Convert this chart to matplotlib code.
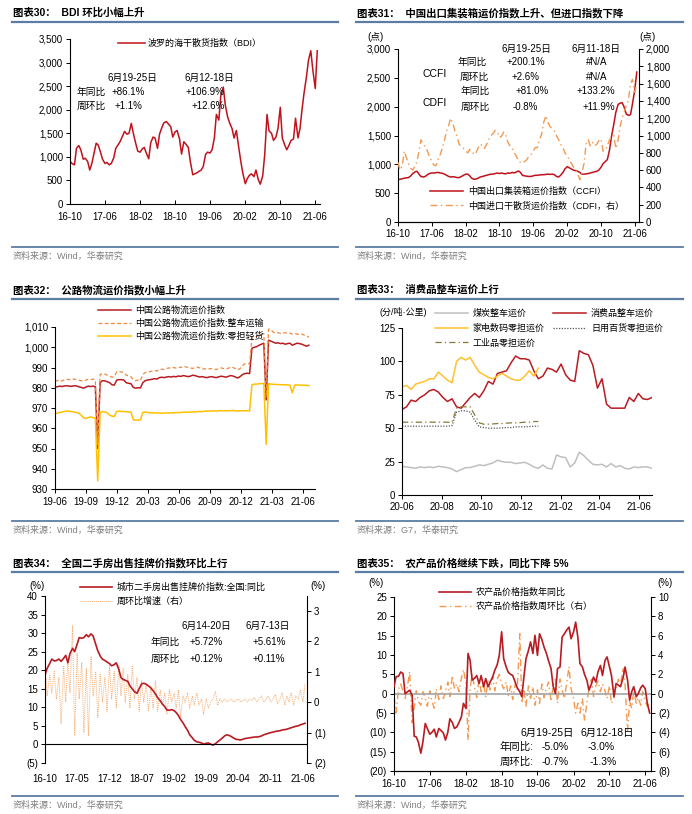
import matplotlib
matplotlib.use('Agg')
import matplotlib.pyplot as plt
from matplotlib.lines import Line2D
from matplotlib.ticker import FuncFormatter, MultipleLocator
import matplotlib.dates as mdates
import pandas as pd

plt.rcParams['font.family'] = ['Liberation Sans', 'Noto Sans CJK SC']
plt.rcParams['font.size'] = 7
plt.rcParams['axes.linewidth'] = 0.8

# ---------------- data ----------------
# 图表30 BDI, semi-monthly from 2016-10
bdi = [905, 860, 830, 1180, 1240, 1150, 950, 970, 900, 720,
       850, 1050, 1290, 1250, 1100, 950, 860, 880, 830, 860,
       980, 1180, 1260, 1330, 1440, 1540, 1480, 1500, 1710, 1500,
       1280, 1120, 1100, 1170, 1200, 1080, 960, 1300, 1420, 1400,
       1180, 1480, 1620, 1720, 1750, 1700, 1640, 1420, 1530, 1560,
       1380, 1060, 1320, 1270, 1200, 900, 620, 640, 660, 690,
       720, 800, 1050, 1100, 1080, 1150, 1400, 1900, 1780, 2300,
       2480, 2100, 1850, 1720, 1600, 1400, 1560, 1250, 900, 650,
       430, 540, 610, 640, 580, 720, 520, 420, 600, 1050,
       1900, 1550, 1500, 1350, 1420, 1600, 2050, 1400, 1250, 1150,
       1250, 1350, 1380, 1820, 1400, 1600, 2000, 2350, 2700, 3050,
       3250, 2850, 2450, 3250]

# 图表31 CCFI (left) / CDFI (right), semi-monthly from 2016-10
ccfi = [735, 740, 750, 760, 765, 770, 800, 840, 870, 880,
        830, 790, 780, 790, 820, 840, 850, 850, 855, 860,
        850, 845, 830, 810, 790, 780, 785, 780, 770, 770,
        790, 810, 830, 830, 800, 760, 740, 745, 760, 780,
        790, 800, 810, 820, 830, 830, 840, 850, 840, 850,
        840, 835, 850, 845, 860, 850, 870, 885, 860, 810,
        800, 795, 790, 790, 800, 810, 810, 815, 820, 820,
        825, 830, 825, 830, 820, 790, 780, 810, 860, 920,
        960, 940, 920, 900, 890, 880, 860, 830, 830, 835,
        840, 850, 860, 870, 880, 900, 950, 1010, 1050, 1080,
        1250, 1480, 1700, 1900, 2040, 2060, 2070, 2000, 1870, 1850,
        1860, 2050, 2300, 2600]
cdfi = [690, 600, 650, 820, 740, 680, 620, 600, 650, 700,
        820, 950, 900, 870, 820, 760, 700, 660, 650, 720,
        780, 850, 950, 1050, 1120, 1200, 1130, 1050, 980, 900,
        870, 850, 820, 800, 840, 820, 780, 800, 860, 900,
        880, 850, 900, 950, 1000, 1020, 1060, 1040, 980, 990,
        1040, 1000, 920, 880, 850, 800, 760, 700, 690, 680,
        700, 720, 760, 780, 820, 860, 860, 950, 1020, 1150,
        1230, 1150, 1100, 1080, 1050, 1000, 950, 900, 860, 800,
        760, 720, 680, 640, 600, 560, 490, 560, 680, 900,
        950, 880, 920, 880, 900, 940, 960, 820, 830, 880,
        950, 980, 1000, 850, 950, 1100, 1200, 1260, 1350, 1400,
        1600, 1650, 1500, 1600]

# 图表32 road freight index, weekly from 2019-06
road_all = [980.3, 980.5, 980.8, 980.6, 980.9, 981.0, 980.8, 980.7, 981.0, 980.9, 980.5, 980.2,
            979.8, 980.3, 980.8, 980.6, 980.8, 980.5, 950.0, 982.5, 983.5, 983.4, 983.0, 982.5,
            981.5, 981.3, 983.8, 984.0, 984.0, 983.8, 982.5, 982.2, 982.0, 980.2, 979.8, 980.0,
            979.9, 982.5, 983.5, 983.8, 984.0, 984.2, 984.5, 984.3, 985.0, 985.2, 985.0, 985.3,
            985.5, 985.3, 985.6, 985.4, 985.8, 985.6, 986.0, 985.8, 985.5, 985.7, 986.2, 986.0,
            985.6, 985.3, 985.5, 985.2, 985.0, 985.3, 985.5, 985.2, 985.0, 985.4, 985.7, 985.5,
            985.2, 985.6, 986.0, 985.8, 985.3, 984.8, 985.5, 986.5, 987.0, 987.2, 987.0, 999.5,
            1000.0, 1000.3, 1001.0, 1001.5, 1002.0, 974.0, 1003.5, 1003.0, 1002.5, 1002.0, 1002.2, 1001.8,
            1002.0, 1001.5, 1001.8, 1002.0, 1001.0, 1001.5, 1002.0, 1001.8, 1001.5, 1001.0, 1000.5, 1001.0]
road_ftl = [983.2, 983.5, 983.8, 983.3, 984.0, 984.2, 984.0, 983.8, 984.3, 984.1, 983.7, 983.5,
            983.2, 983.8, 984.2, 984.0, 984.3, 983.8, 952.0, 986.5, 987.0, 986.8, 986.2, 985.8,
            985.2, 985.5, 987.8, 988.0, 987.8, 987.5, 986.2, 986.0, 985.5, 984.0, 983.5, 983.8,
            983.6, 986.5, 987.5, 987.8, 988.0, 988.2, 988.5, 988.3, 989.0, 989.2, 989.0, 989.5,
            989.8, 989.6, 990.0, 989.7, 990.2, 990.0, 990.6, 990.4, 990.0, 989.8, 989.5, 990.0,
            990.2, 989.8, 989.2, 989.4, 989.0, 989.3, 989.5, 989.2, 989.0, 989.5, 989.8, 989.5,
            989.2, 989.6, 990.2, 990.0, 989.5, 988.8, 989.5, 991.0, 991.8, 992.0, 991.8, 1004.5,
            1005.0, 1005.3, 1006.0, 1006.5, 1006.8, 975.5, 1009.0, 1008.5, 1007.5, 1007.0, 1007.2, 1006.8,
            1007.0, 1007.2, 1006.8, 1007.0, 1006.5, 1006.8, 1006.5, 1006.2, 1006.5, 1006.0, 1005.5, 1005.0]
road_ltl = [967.2, 967.5, 967.8, 968.0, 968.3, 968.5, 968.4, 968.2, 968.0, 967.8, 967.5, 966.5,
            965.2, 964.8, 965.3, 965.6, 965.2, 965.0, 934.0, 967.8, 968.2, 968.0, 967.6, 966.5,
            966.0, 965.8, 968.3, 968.5, 968.3, 968.2, 968.2, 968.0, 968.0, 964.2, 964.0, 964.0,
            964.2, 967.8, 968.0, 967.8, 967.6, 967.7, 967.5, 967.6, 967.5, 967.4, 967.5, 967.6,
            967.5, 967.7, 967.6, 967.8, 967.7, 967.8, 967.9, 968.0, 967.9, 968.0, 968.1, 968.0,
            968.2, 968.3, 968.2, 968.4, 968.5, 968.4, 968.5, 968.6, 968.5, 968.6, 968.7, 968.6,
            968.7, 968.6, 968.7, 968.8, 968.6, 968.5, 968.6, 968.7, 968.6, 968.7, 968.6, 981.5,
            981.8, 981.8, 982.0, 982.0, 982.2, 952.0, 982.0, 981.8, 981.7, 981.6, 981.6, 981.5,
            981.5, 981.4, 981.4, 981.3, 977.5, 981.3, 981.4, 981.3, 981.3, 981.2, 981.2, 981.0]

# 图表33 G7 freight rates, weekly from 2020-06
coal_ftl = [21.5, 21, 20.5, 20, 21, 20.5, 21, 20.5, 21.5, 21, 20.5, 19.5, 17.5, 19,
            20.5, 20.5, 21.5, 22.5, 22, 23, 24, 26, 25, 24.5, 24.5, 23.5, 24, 24.5,
            23, 21, 20, 22.5, 20, 19.5, 30, 28.5, 28, 21, 24, 32, 29.5, 26,
            23, 22.5, 23, 21, 23.5, 21, 22, 20, 19.5, 21, 20.5, 21, 21, 20]
consumer_ftl = [64, 66, 71, 70, 73, 75, 78, 79, 77, 73, 70, 72, 66, 65,
                69, 73, 76, 73, 78, 85, 83, 91, 92, 93, 99, 104, 102, 102,
                101, 93, 87, 89, 95, 94, 92, 98, 90, 86, 85, 108, 106, 105,
                97, 80, 87, 68, 65, 65, 65, 65, 73, 70, 76, 72, 71.5, 73]
appliance_ltl = [81, 82, 79, 83, 84, 85, 87, 87, 92, 89, 86, 84, 100, 103, 101, 103,
                 97, 92, 90, 88, 87, 89, 91, 89, 87, 86, 86, 89, 93, 89, 95]
daily_ltl = [51.5, 51.5, 51.5, 51.5, 51.5, 51.5, 51.5, 51.5, 51.5, 51.5, 51.5, 52, 62, 63, 63, 62,
             56, 51, 50.5, 50, 50, 50, 50.2, 50.5, 50.5, 51, 51, 51, 51.2, 51.5, 51.5]
industrial_ltl = [54.5, 54.5, 54.5, 54.5, 54.5, 54.5, 54.5, 54.5, 54.5, 54.5, 54.5, 54.5, 65, 66, 66, 66,
                  60, 54, 53, 53, 53.2, 53.5, 53.5, 53.8, 54, 54, 54.2, 54.5, 54.5, 55, 55]

# 图表34 second-hand housing listing price, semi-monthly from 2016-10
house_yoy = [18.7, 20.5, 21.8, 23, 22.5, 22.6, 23, 22.4, 23.2, 24,
             22, 24.5, 25.9, 25, 27, 28.8, 28.6, 28.8, 29.6, 29,
             29.8, 29.2, 27, 25.2, 23.8, 23, 22.6, 22.2, 21.8, 21.2,
             21.5, 22, 20.2, 18, 17.5, 17.3, 17, 15.8, 15, 14.2,
             13.8, 15, 16.3, 16.5, 16.2, 15.8, 15.2, 14.5, 13.6, 12.6,
             11.8, 10.9, 10.2, 9.3, 9.2, 9.4, 9.1, 8.6, 7.8, 6.8,
             5.8, 4.8, 3.8, 2.6, 1.8, 1.1, 0.7, 0.6, 0.4, 0.1,
             0.3, 0.4, 0.1, -0.2, 0.2, 0.7, 1.2, 1.7, 2.3, 2.6,
             2.4, 2.1, 1.7, 1.4, 1.3, 1.2, 1.4, 1.6, 1.7, 1.8,
             1.9, 2.0, 2.0, 2.1, 2.3, 2.6, 2.8, 3.0, 3.2, 3.3,
             3.5, 3.6, 3.7, 3.9, 4.0, 4.1, 4.3, 4.5, 4.7, 4.9,
             5.0, 5.3, 5.5, 5.7]
house_wow = [1.2, 0.2, 0.9, 0.3, 1.0, 0.1, 0.8, -0.7, 1.2, 0.0,
             1.4, 0.3, 2.5, -1.1, 1.6, 0.1, 1.3, -1.0, 1.1, -1.1,
             1.5, 0.2, 1.0, -0.5, 0.9, 0.0, 0.8, -0.3, 1.2, 0.1,
             1.0, -0.2, 1.2, 0.2, 1.1, 0.0, 0.9, -0.2, 1.2, 0.1,
             0.8, -0.3, 0.7, 0.0, 0.6, -0.3, 0.5, -0.2, 0.7, -0.3,
             0.4, -0.1, 0.3, -0.4, 0.4, 0.0, 0.3, -0.2, 0.4, -0.5,
             0.2, 0.0, 0.3, -0.2, 0.2, -0.1, 0.3, -0.1, 0.1, -0.4,
             0.1, -0.2, 0.0, 0.1, 0.35, -0.1, 0.1, 0.0, 0.1, 0.0,
             0.05, 0.1, 0.0, 0.05, 0.1, 0.0, 0.05, 0.1, 0.0, 0.1,
             0.05, 0.15, 0.0, 0.1, 0.2, 0.0, 0.1, 0.2, 0.0, 0.1,
             0.25, -0.05, 0.1, 0.3, -0.1, 0.2, 0.0, 0.3, -0.1, 0.2,
             0.1, 0.4, 0.0, 0.6]

# 图表35 agricultural price index, semi-monthly from 2016-10
agri_yoy = [1.8, 4.4, 4.5, 5.6, 5.2, 0.0, 0.5, 0.9, -0.4, -11.0,
            -11.2, -12.5, -15.4, -12.5, -7.7, -9.0, -10.5, -10.0, -9.2, -11.2,
            -9.0, -9.5, -10.2, -12.0, -10.0, -6.5, -7.5, -9.0, -8.6, -7.5,
            -6.0, -2.5, -3.8, 10.4, 8.6, 3.5, 4.0, 4.7, 2.6, 4.7,
            1.8, 3.9, 1.8, 3.0, 4.3, 6.0, 7.5, 9.9, 16.0, 9.0,
            6.9, 5.5, 5.0, 4.7, 3.0, 1.5, 0.5, -0.8, 4.3, 9.0,
            11.2, 13.4, 10.4, 15.1, 9.9, 15.5, 14.0, 12.1, 10.4, 8.5,
            6.5, 2.0, 0.0, 6.5, 6.9, 14.6, 15.5, 16.4, 17.2, 14.2,
            16.0, 18.5, 14.6, 7.8, 6.9, 5.0, 3.5, 0.9, 2.5, 4.3,
            3.0, 5.6, 7.3, 4.7, 8.6, 9.5, 7.0, 4.7, -0.8, 2.6,
            2.2, 1.8, 4.0, 6.9, 3.5, -1.7, 0.5, 1.8, -0.8, 0.0,
            1.5, 2.2, 1.3, -2.5, -5.0]
agri_wow = [-0.3, -2.0, 0.5, 1.0, 0.3, -0.5, 0.8, 2.3, -3.0, -1.5,
            0.3, -0.8, -1.2, 0.2, -0.5, -1.3, 0.3, -0.8, -1.5, 0.5,
            -0.6, 0.8, -0.5, 0.2, 1.2, -0.3, 1.9, 0.5, 1.0, 0.2,
            1.6, 2.5, 1.0, -4.8, 0.5, 2.0, 0.6, -0.4, 1.5, 0.2,
            1.0, -0.3, 1.3, 0.4, 1.8, 0.3, 1.5, 2.0, 1.0, 0.5,
            1.2, -0.2, 0.8, -0.6, 1.0, 0.4, 6.2, -1.0, 0.5, -1.3,
            0.8, -0.5, 0.7, -1.2, 0.4, -1.0, 1.0, -0.4, 0.6, 1.2,
            -0.8, 0.8, 1.5, -1.0, 1.5, 0.4, -0.5, 1.0, 2.8, 0.5,
            -0.5, -2.0, -1.0, -2.0, -0.5, -2.8, -1.0, 0.5, 1.5, -0.3,
            0.8, 1.3, 0.2, 1.0, 0.3, -0.5, 0.8, -1.0, -0.3, 0.6,
            1.5, 0.8, 2.7, 1.0, -3.8, -0.8, -1.5, 0.3, -1.0, -0.4,
            -1.2, 0.2, -0.8, -1.3, -0.7]

# ---------------- helpers ----------------
W, H = 692, 814
fig = plt.figure(figsize=(W / 100, H / 100), dpi=100)

RED = '#C0121C'
ORANGE = '#F29A52'
RULE = '#5B7DA3'
GREY_TXT = '#7F7F7F'


def px_axes(left, top, right, bottom):
    return fig.add_axes([left / W, 1 - bottom / H, (right - left) / W, (bottom - top) / H])


def ftext(x, y, s, **kw):
    kw.setdefault('va', 'center')
    kw.setdefault('fontsize', 7)
    fig.text(x / W, 1 - y / H, s, **kw)


def hrule(x1, x2, y, lw):
    fig.add_artist(Line2D([x1 / W, x2 / W], [1 - y / H, 1 - y / H],
                          transform=fig.transFigure, color=RULE, lw=lw))


def frame(col_x1, col_x2, row_top, row_bottom, title, source):
    ftext(col_x1 + 1, row_top, title, fontsize=7.5, fontweight='bold')
    hrule(col_x1, col_x2, row_top + 9, 1.6)
    hrule(col_x1, col_x2, row_bottom, 1.3)
    ftext(col_x1 + 1, row_bottom + 9, source, fontsize=6.5, color=GREY_TXT)


def legend_px(ax, handles, labels, x, y, **kw):
    return ax.legend(handles, labels, loc='upper left', bbox_to_anchor=(x / W, 1 - y / H),
                     bbox_transform=fig.transFigure, frameon=False, borderpad=0,
                     borderaxespad=0, fontsize=6.5, **kw)


def style(ax, right=False):
    ax.spines['top'].set_visible(False)
    if not right:
        ax.spines['right'].set_visible(False)
    ax.tick_params(length=3, width=0.7, labelsize=7, pad=2)
    ax.xaxis.set_major_formatter(mdates.DateFormatter('%y-%m'))


thousands = FuncFormatter(lambda v, p: f'{v:,.0f}')
paren = FuncFormatter(lambda v, p: f'({abs(v):.0f})' if v < 0 else f'{v:.0f}')

# ---------------- frames ----------------
frame(12, 338, 13, 247, '图表30：  BDI 环比小幅上升', '资料来源：Wind，华泰研究')
frame(356, 683, 13, 247, '图表31：  中国出口集装箱运价指数上升、但进口指数下降', '资料来源：Wind，华泰研究')
frame(12, 338, 290, 521, '图表32：  公路物流运价指数小幅上升', '资料来源：Wind，华泰研究')
frame(356, 683, 290, 521, '图表33：  消费品整车运价上行', '资料来源：G7，华泰研究')
frame(12, 338, 563, 796, '图表34：  全国二手房出售挂牌价指数环比上行', '资料来源：Wind，华泰研究')
frame(356, 683, 563, 796, '图表35：  农产品价格继续下跌，同比下降 5%', '资料来源：Wind，华泰研究')

# ---------------- 图表30 ----------------
ax = px_axes(70, 39, 320, 204)
d = pd.date_range('2016-10-01', periods=len(bdi), freq='SMS')
ax.plot(d, bdi, color=RED, lw=1.1, label='波罗的海干散货指数（BDI）')
ax.set_ylim(0, 3500)
ax.yaxis.set_major_locator(MultipleLocator(500))
ax.yaxis.set_major_formatter(thousands)
ax.set_xlim(pd.Timestamp('2016-10-01'), pd.Timestamp('2021-07-04'))
ax.set_xticks(pd.date_range('2016-10-01', '2021-06-01', freq='8MS'))
style(ax)
ax.tick_params(axis='x', direction='in', pad=6)
h, l = ax.get_legend_handles_labels()
legend_px(ax, h, l, 118, 39, handlelength=3.0, handletextpad=0.3)
ftext(132, 78, '6月19-25日', ha='center')
ftext(91, 92, '年同比', ha='center')
ftext(128, 92, '+86.1%', ha='center')
ftext(91, 106, '周环比', ha='center')
ftext(128, 106, '+1.1%', ha='center')
ftext(209, 78, '6月12-18日', ha='center')
ftext(205, 92, '+106.9%', ha='center')
ftext(208, 106, '+12.6%', ha='center')

# ---------------- 图表31 ----------------
ax = px_axes(398, 49, 639, 222)
ax2 = ax.twinx()
d = pd.date_range('2016-10-01', periods=len(ccfi), freq='SMS')
l1, = ax.plot(d, ccfi, color=RED, lw=1.1)
l2, = ax2.plot(d, cdfi, color=ORANGE, lw=1.0, ls=(0, (5, 2.5, 1, 2.5)))
ax.set_ylim(0, 3000)
ax.yaxis.set_major_locator(MultipleLocator(500))
ax.yaxis.set_major_formatter(thousands)
ax2.set_ylim(0, 2000)
ax2.yaxis.set_major_locator(MultipleLocator(200))
ax2.yaxis.set_major_formatter(thousands)
ax.set_xlim(pd.Timestamp('2016-10-01'), pd.Timestamp('2021-07-01'))
ax.set_xticks(pd.date_range('2016-10-01', '2021-06-01', freq='8MS'))
style(ax)
style(ax2, right=True)
ax2.spines['left'].set_visible(False)
legend_px(ax2, [l1, l2], ['中国出口集装箱运价指数（CCFI）', '中国进口干散货运价指数（CDFI，右）'],
          430, 187, handlelength=3.6, handletextpad=0.65, labelspacing=0.55)
ftext(376, 37, '(点)', ha='center')
ftext(648, 37, '(点)', ha='center')
ftext(526, 49, '6月19-25日', ha='center')
ftext(596, 49, '6月11-18日', ha='center')
ftext(472, 62, '年同比', ha='center')
ftext(526, 62, '+200.1%', ha='center')
ftext(597, 62, '#N/A', ha='center')
ftext(435, 74, 'CCFI', ha='center', fontsize=7.5)
ftext(474, 77, '周环比', ha='center')
ftext(526, 77, '+2.6%', ha='center')
ftext(597, 77, '#N/A', ha='center')
ftext(475, 91, '年同比', ha='center')
ftext(532, 91, '+81.0%', ha='center')
ftext(596, 91, '+133.2%', ha='center')
ftext(435, 103, 'CDFI', ha='center', fontsize=7.5)
ftext(475, 107, '周环比', ha='center')
ftext(525, 107, '-0.8%', ha='center')
ftext(599, 107, '+11.9%', ha='center')

# ---------------- 图表32 ----------------
ax = px_axes(55, 327, 315, 489)
d = pd.date_range('2019-06-01', periods=len(road_all), freq='7D')
ax.plot(d, road_all, color='#B81C22', lw=1.1, label='中国公路物流运价指数')
ax.plot(d, road_ftl, color='#F0883C', lw=0.9, ls=(0, (3, 2)), label='中国公路物流运价指数:整车运输')
ax.plot(d, road_ltl, color='#FFC000', lw=1.1, label='中国公路物流运价指数:零担轻货')
ax.set_ylim(930, 1010)
ax.yaxis.set_major_locator(MultipleLocator(10))
ax.yaxis.set_major_formatter(thousands)
ax.set_xlim(pd.Timestamp('2019-06-01'), pd.Timestamp('2021-07-07'))
ax.set_xticks(pd.date_range('2019-06-01', '2021-06-01', freq='3MS'))
style(ax)
ax.tick_params(axis='x', pad=3)
h, l = ax.get_legend_handles_labels()
legend_px(ax, h, l, 98, 306, handlelength=3.6, handletextpad=0.55, labelspacing=0.4)

# ---------------- 图表33 ----------------
ax = px_axes(402, 328, 652, 495)
d = pd.date_range('2020-06-01', periods=len(coal_ftl), freq='7D')
g1, = ax.plot(d, coal_ftl, color='#BFBFBF', lw=1.1)
g2, = ax.plot(d, consumer_ftl, color='#B81C22', lw=1.1)
g3, = ax.plot(d[:len(appliance_ltl)], appliance_ltl, color='#FFC12E', lw=1.1)
g4, = ax.plot(d[:len(daily_ltl)], daily_ltl, color='#595959', lw=0.9, ls=(0, (1, 1.2)))
g5, = ax.plot(d[:len(industrial_ltl)], industrial_ltl, color='#847A3A', lw=0.9, ls=(0, (5, 2.5, 1, 2.5)))
ax.set_ylim(0, 125)
ax.yaxis.set_major_locator(MultipleLocator(25))
ax.set_xlim(pd.Timestamp('2020-06-01'), pd.Timestamp('2021-06-21'))
ax.set_xticks(pd.date_range('2020-06-01', '2021-06-01', freq='2MS'))
style(ax)
legend_px(ax, [g1, g3, g5, g2, g4],
          ['煤炭整车运价', '家电数码零担运价', '工业品零担运价', '消费品整车运价', '日用百货零担运价'],
          435, 309, ncol=2, handlelength=3.6, handletextpad=0.55, labelspacing=0.6, columnspacing=1.0)
ftext(403, 312, '(分/吨·公里)', ha='center', fontsize=6.5)

# ---------------- 图表34 ----------------
ax = px_axes(45, 596, 307, 763)
ax2 = ax.twinx()
d = pd.date_range('2016-10-01', periods=len(house_yoy), freq='SMS')
l2, = ax2.plot(d, house_wow, color='#F5AE74', lw=0.7, ls=(0, (1, 1)))
l1, = ax.plot(d, house_yoy, color='#B81C22', lw=1.2)
ax.set_zorder(ax2.get_zorder() + 1)
ax.patch.set_visible(False)
ax.axhline(0, color='#000000', lw=0.8)
ax.set_ylim(-5, 40)
ax.yaxis.set_major_locator(MultipleLocator(5))
ax.yaxis.set_major_formatter(paren)
ax2.set_ylim(-2, 3.48)
ax2.set_yticks([-2, -1, 0, 1, 2, 3])
ax2.yaxis.set_major_formatter(paren)
ax.set_xlim(pd.Timestamp('2016-10-01'), pd.Timestamp('2021-06-28'))
ax.set_xticks(pd.date_range('2016-10-01', '2021-06-01', freq='7MS'))
style(ax)
style(ax2, right=True)
ax.spines['bottom'].set_visible(False)
ax2.spines['bottom'].set_visible(False)
ax2.spines['left'].set_visible(False)
ax.tick_params(axis='x', length=0, pad=8)
legend_px(ax, [l1, l2], ['城市二手房出售挂牌价指数:全国:同比', '周环比增速（右）'],
          80, 583, handlelength=3.5, handletextpad=0.55, labelspacing=0.5)
ftext(37, 586, '(%)', ha='center')
ftext(318, 586, '(%)', ha='center')
ftext(206, 626, '6月14-20日', ha='center')
ftext(268, 626, '6月7-13日', ha='center')
ftext(165, 642, '年同比', ha='center')
ftext(206, 642, '+5.72%', ha='center')
ftext(269, 642, '+5.61%', ha='center')
ftext(165, 659, '周环比', ha='center')
ftext(206, 659, '+0.12%', ha='center')
ftext(269, 659, '+0.11%', ha='center')

# ---------------- 图表35 ----------------
ax = px_axes(394, 597, 651, 771)
ax2 = ax.twinx()
d = pd.date_range('2016-10-01', periods=len(agri_yoy), freq='SMS')
ax.axhline(0, color='#A6A6A6', lw=1.2, zorder=1)
l2, = ax2.plot(d, agri_wow, color=ORANGE, lw=1.0, ls=(0, (5, 2.5, 1, 2.5)))
l1, = ax.plot(d, agri_yoy, color='#B81C22', lw=1.2, zorder=3)
ax.set_zorder(ax2.get_zorder() + 1)
ax.patch.set_visible(False)
ax.set_ylim(-20, 25)
ax.yaxis.set_major_locator(MultipleLocator(5))
ax.yaxis.set_major_formatter(paren)
ax2.set_ylim(-8, 10)
ax2.yaxis.set_major_locator(MultipleLocator(2))
ax2.yaxis.set_major_formatter(paren)
ax.set_xlim(pd.Timestamp('2016-10-01'), pd.Timestamp('2021-07-10'))
ax.set_xticks(pd.date_range('2016-10-01', '2021-06-01', freq='8MS'))
style(ax)
style(ax2, right=True)
ax2.spines['left'].set_visible(False)
ax.tick_params(axis='x', pad=3)
legend_px(ax, [l1, l2], ['农产品价格指数年同比', '农产品价格指数周环比（右）'],
          439, 588, handlelength=3.6, handletextpad=0.45, labelspacing=0.55)
ftext(376, 583, '(%)', ha='center')
ftext(665, 583, '(%)', ha='center')
ftext(547, 733, '6月19-25日', ha='center', fontsize=7.5)
ftext(607, 733, '6月12-18日', ha='center', fontsize=7.5)
ftext(517, 747, '年同比:', ha='center', fontsize=7.5)
ftext(555, 747, '-5.0%', ha='center', fontsize=7.5)
ftext(601, 747, '-3.0%', ha='center', fontsize=7.5)
ftext(517, 762, '周环比:', ha='center', fontsize=7.5)
ftext(555, 762, '-0.7%', ha='center', fontsize=7.5)
ftext(603, 762, '-1.3%', ha='center', fontsize=7.5)

fig.savefig('out.png', dpi=100)
